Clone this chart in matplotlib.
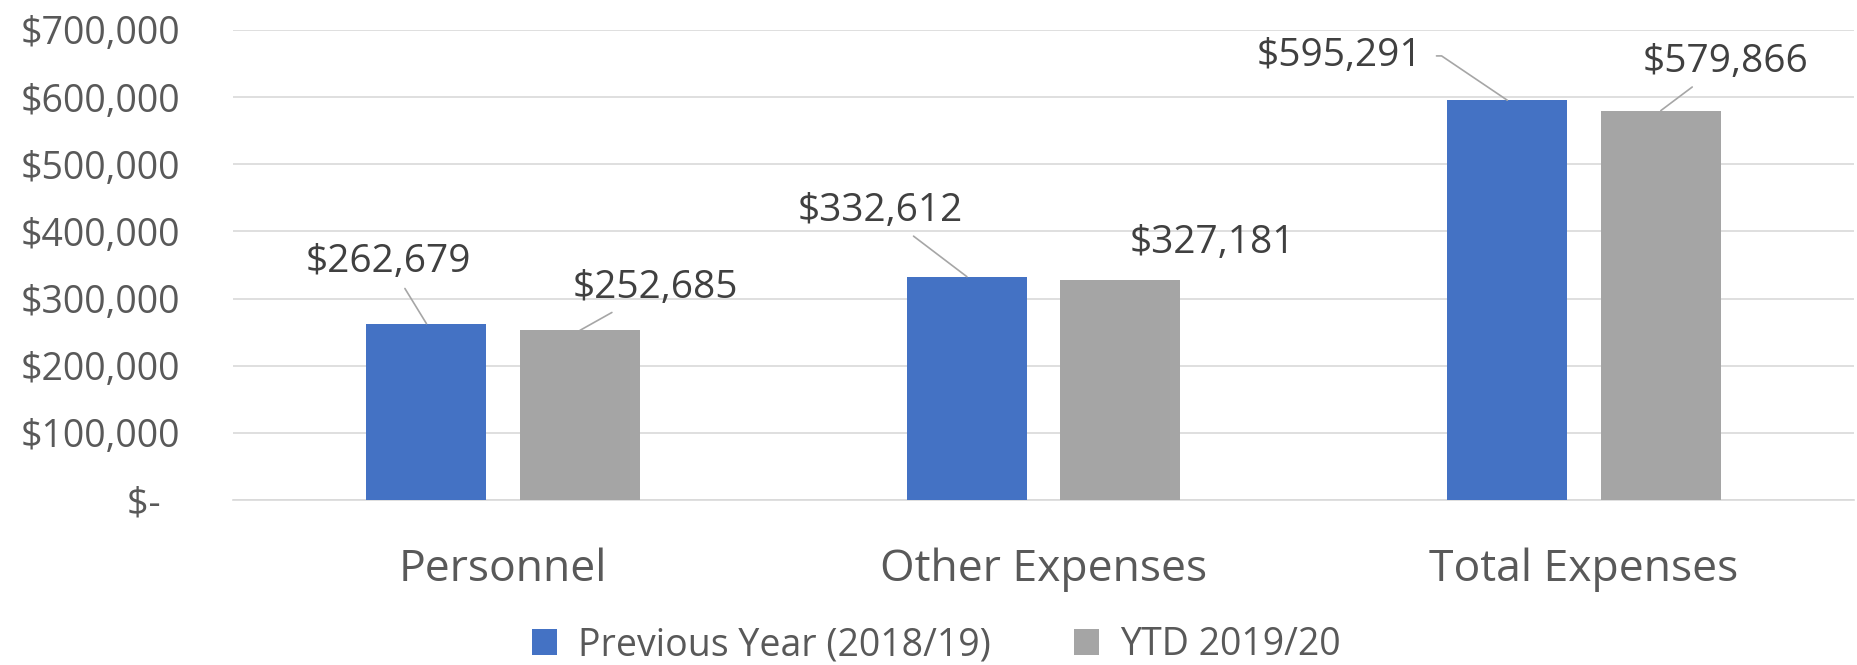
import matplotlib
matplotlib.use("Agg")
import matplotlib.pyplot as plt
import numpy as np
from matplotlib.ticker import FuncFormatter

categories = ["Personnel", "Other Expenses", "Total Expenses"]
previous_year = [262679, 332612, 595291]
ytd = [252685, 327181, 579866]
series_names = ["Previous Year (2018/19)", "YTD 2019/20"]

# label placement (x offset in category units, y position in dollars)
prev_label_pos = [(-0.07, 354500), (-0.16, 430400), (-0.31, 661300)]
ytd_label_pos = [(0.14, 315800), (0.17, 382800), (0.12, 652400)]
ytd_leader = [True, False, True]

plt.rcParams["font.family"] = ["Open Sans", "DejaVu Sans"]

blue = "#4472C4"
grey = "#A5A5A5"

fig = plt.figure(figsize=(18.58, 6.65), dpi=100)
ax = fig.add_axes([0.1254, 0.248, 0.8726, 0.707])

x = np.arange(len(categories))
w = 0.222
off = 0.142
b1 = ax.bar(x - off, previous_year, w, color=blue, label=series_names[0], zorder=3)
b2 = ax.bar(x + off, ytd, w, color=grey, label=series_names[1], zorder=3)

ax.set_xlim(-0.5, 2.5)
ax.set_ylim(0, 700000)
ax.set_yticks(np.arange(0, 700001, 100000))
# accounting style: zero shows as "$-" with trailing padding
ax.yaxis.set_major_formatter(FuncFormatter(lambda v, p: "$-  " if v == 0 else f"${v:,.0f}"))
ax.grid(axis="y", color="#D9D9D9", linewidth=1.2, zorder=0)
for s in ["top", "right", "left"]:
    ax.spines[s].set_visible(False)
ax.spines["bottom"].set_color("#D9D9D9")
ax.spines["bottom"].set_linewidth(1.2)
ax.tick_params(axis="both", length=0)
ax.tick_params(axis="y", labelsize=27, labelcolor="#595959", pad=38)
ax.set_xticks(x)
ax.set_xticklabels(categories)
ax.tick_params(axis="x", labelsize=32, labelcolor="#595959", pad=34)

def label(val, xb, pos, leader=True, corner=False):
    xt = xb + pos[0]
    props = None
    if leader:
        props = dict(arrowstyle="-", color="#A6A6A6", lw=1.2, shrinkA=4, shrinkB=0)
        if corner:
            props.update(relpos=(1, 0.5), shrinkA=8,
                         connectionstyle="angle,angleA=0,angleB=146,rad=0")
    ax.annotate(f"${val:,.0f}", xy=(xb, val), xytext=(xt, pos[1]),
                ha="center", va="center", fontsize=28, color="#404040",
                arrowprops=props, zorder=5)

for i in range(len(categories)):
    label(previous_year[i], x[i] - off, prev_label_pos[i], corner=(i == 2))
    label(ytd[i], x[i] + off, ytd_label_pos[i], ytd_leader[i])

fig.legend(handles=[b1, b2], loc="center", bbox_to_anchor=(0.504, 0.03), ncol=2,
           frameon=False, fontsize=27, labelcolor="#595959", handlelength=0.67,
           handleheight=0.67, columnspacing=2.2, handletextpad=0.56)

fig.savefig("out.png", dpi=100)
